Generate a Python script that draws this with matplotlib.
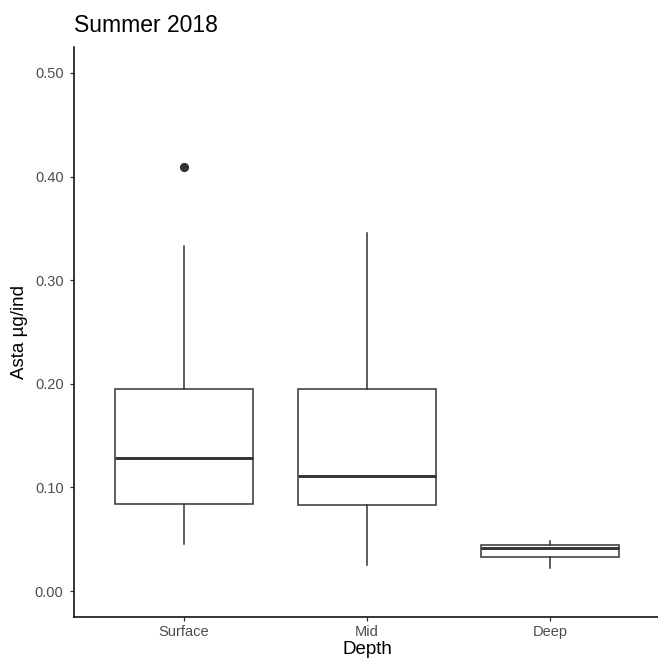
import matplotlib
matplotlib.use("Agg")
import matplotlib.pyplot as plt

plt.rcParams["font.family"] = ["Liberation Sans", "DejaVu Sans"]

# Resumen de cajas por profundidad (astaxantina, µg/ind)
profundidades = ["Surface", "Mid", "Deep"]
bigote_inf = [0.045, 0.025, 0.022]
q1 = [0.084, 0.083, 0.033]
mediana = [0.128, 0.111, 0.042]
q3 = [0.195, 0.195, 0.044]
bigote_sup = [0.333, 0.346, 0.048]
atipicos = [[0.409], [], []]
y_ticks = [0.0, 0.1, 0.2, 0.3, 0.4, 0.5]

stats = [
    {"label": p, "whislo": lo, "q1": a, "med": m, "q3": b, "whishi": hi, "fliers": f}
    for p, lo, a, m, b, hi, f in zip(profundidades, bigote_inf, q1, mediana, q3, bigote_sup, atipicos)
]

gris = "#333333"
fig = plt.figure(figsize=(6.58, 6.62), dpi=100)
ax = fig.add_axes([74 / 658, 45 / 662, 586 / 658, 570 / 662])

ax.bxp(
    stats,
    positions=[1, 2, 3],
    widths=0.75,
    showcaps=False,
    patch_artist=True,
    boxprops=dict(facecolor="white", edgecolor=gris, linewidth=1.1),
    whiskerprops=dict(color=gris, linewidth=1.1),
    medianprops=dict(color=gris, linewidth=2.1, solid_capstyle="butt"),
    flierprops=dict(marker="o", markerfacecolor=gris, markeredgecolor=gris, markersize=5.6),
)

ax.set_xlim(0.4, 3.6)
ax.set_ylim(-0.025, 0.525)
ax.set_yticks(y_ticks)
ax.set_yticklabels([f"{v:.2f}" for v in y_ticks])
ax.set_xticks([1, 2, 3])
ax.set_xticklabels(profundidades)

for lado in ["top", "right"]:
    ax.spines[lado].set_visible(False)
for lado in ["left", "bottom"]:
    ax.spines[lado].set_color("black")
    ax.spines[lado].set_linewidth(1.1)

ax.tick_params(axis="both", length=3.2, width=0.9, color=gris, labelcolor="#4D4D4D", labelsize=10.5)
ax.tick_params(axis="y", pad=4.3)
ax.tick_params(axis="x", pad=2.5)

ax.set_xlabel("Depth", fontsize=13.5, color="black", labelpad=1.5)
ax.set_ylabel("Asta µg/ind", fontsize=13.5, color="black", labelpad=5)
ax.set_title("Summer 2018", fontsize=16.5, loc="left", pad=11)

fig.savefig("out.png", dpi=100)
